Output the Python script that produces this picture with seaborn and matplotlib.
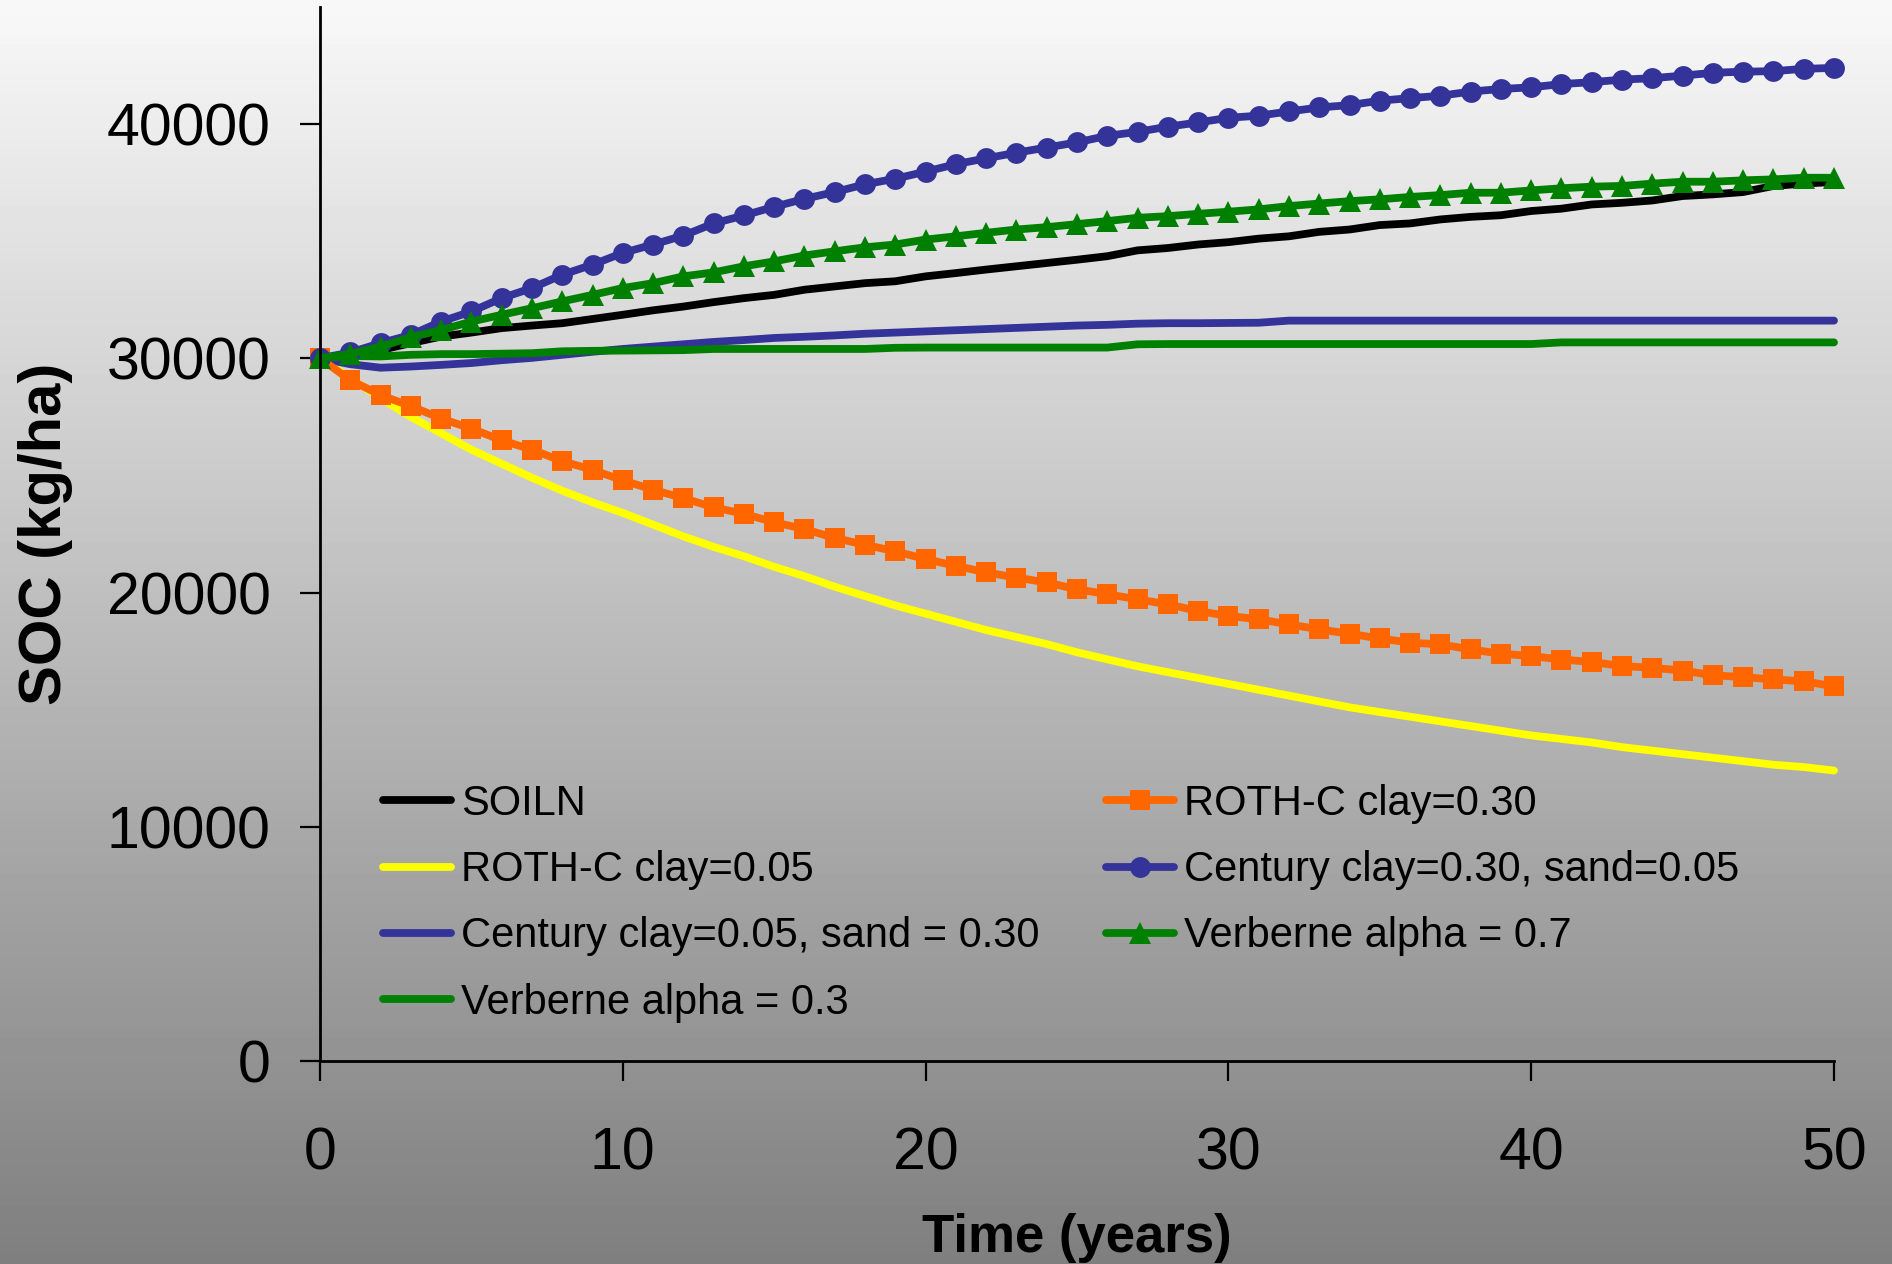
import numpy as np
import pandas as pd
import matplotlib
matplotlib.use("Agg")
import matplotlib.pyplot as plt
import seaborn as sns

# ---------------- data ----------------
years = list(range(51))

soiln = [30000, 30150, 30350, 30650, 30930, 31100, 31290, 31400, 31500, 31680,
         31860, 32050, 32210, 32400, 32570, 32710, 32930, 33070, 33210, 33290,
         33500, 33640, 33790, 33930, 34070, 34210, 34360, 34610, 34710, 34860,
         34960, 35110, 35210, 35400, 35500, 35690, 35760, 35930, 36040, 36110,
         36290, 36390, 36570, 36640, 36740, 36930, 37000, 37100, 37360, 37460,
         37530]

rothc_clay005 = [30000, 29150, 28300, 27500, 26800, 26100, 25500, 24900, 24350, 23850,
                 23400, 22900, 22400, 21950, 21550, 21100, 20700, 20250, 19850, 19450,
                 19100, 18750, 18400, 18100, 17800, 17450, 17150, 16850, 16600, 16350,
                 16100, 15850, 15600, 15350, 15100, 14900, 14700, 14500, 14300, 14100,
                 13900, 13750, 13600, 13400, 13250, 13100, 12950, 12800, 12650, 12550,
                 12400]

century_clay005 = [30000, 29750, 29600, 29650, 29720, 29800, 29920, 30020, 30150, 30280,
                   30400, 30500, 30600, 30700, 30780, 30870, 30920, 30980, 31050, 31100,
                   31150, 31200, 31250, 31300, 31350, 31400, 31430, 31480, 31500, 31500,
                   31510, 31520, 31610, 31610, 31610, 31610, 31610, 31610, 31610, 31610,
                   31610, 31610, 31610, 31610, 31610, 31610, 31610, 31610, 31610, 31610,
                   31610]

verberne_03 = [30000, 30100, 30080, 30150, 30180, 30180, 30200, 30220, 30300, 30320,
               30330, 30340, 30350, 30400, 30400, 30400, 30400, 30400, 30400, 30450,
               30460, 30460, 30460, 30460, 30460, 30460, 30460, 30600, 30610, 30610,
               30610, 30610, 30610, 30610, 30610, 30610, 30610, 30610, 30610, 30610,
               30610, 30680, 30680, 30680, 30680, 30680, 30680, 30680, 30680, 30680,
               30680]

rothc_clay030 = [30000, 29070, 28430, 27960, 27430, 27000, 26500, 26100, 25610, 25240,
                 24790, 24390, 24030, 23640, 23360, 23000, 22710, 22330, 22040, 21760,
                 21430, 21140, 20860, 20640, 20430, 20140, 19930, 19710, 19500, 19210,
                 19000, 18860, 18640, 18430, 18240, 18040, 17860, 17790, 17570, 17390,
                 17290, 17140, 17040, 16860, 16790, 16670, 16470, 16390, 16290, 16210,
                 16000]

century_clay030 = [30000, 30250, 30650, 31000, 31570, 32000, 32570, 33000, 33570, 34000,
                   34500, 34860, 35240, 35760, 36100, 36470, 36810, 37100, 37430, 37670,
                   37970, 38290, 38540, 38780, 39000, 39220, 39500, 39670, 39890, 40070,
                   40270, 40360, 40540, 40710, 40810, 41000, 41110, 41210, 41390, 41500,
                   41570, 41710, 41790, 41900, 41960, 42070, 42190, 42240, 42260, 42360,
                   42400]

verberne_07 = [30000, 30190, 30500, 30900, 31210, 31570, 31860, 32140, 32430, 32710,
               33000, 33210, 33500, 33670, 33930, 34140, 34390, 34570, 34740, 34860,
               35070, 35210, 35360, 35500, 35600, 35730, 35860, 36000, 36070, 36170,
               36260, 36360, 36500, 36610, 36710, 36790, 36890, 36970, 37070, 37070,
               37170, 37260, 37330, 37360, 37460, 37540, 37540, 37600, 37640, 37710,
               37710]

series_labels = ["SOILN", "ROTH-C clay=0.05", "Century clay=0.05, sand = 0.30",
                 "Verberne alpha = 0.3", "ROTH-C clay=0.30",
                 "Century clay=0.30, sand=0.05", "Verberne alpha = 0.7"]
series_values = [soiln, rothc_clay005, century_clay005, verberne_03,
                 rothc_clay030, century_clay030, verberne_07]

x_ticks = [0, 10, 20, 30, 40, 50]
y_ticks = [0, 10000, 20000, 30000, 40000]

# ---------------- styles ----------------
colors = ["#000000", "#FFFF00", "#333399", "#008000", "#FF6600", "#333399", "#008000"]
markers = ["None", "None", "None", "None", "s", "o", "^"]
msizes = [0, 0, 0, 0, 14, 15, 16.5]
LW = 5.6

sns.set_theme(style="white")
plt.rcParams["font.family"] = ["Liberation Sans", "DejaVu Sans"]

W, H, DPI = 1892, 1264, 100
fig = plt.figure(figsize=(W / DPI, H / DPI), dpi=DPI)

# gradient background
bg = fig.add_axes([0, 0, 1, 1], zorder=0)
grad = np.linspace(248, 127, 256).reshape(-1, 1) / 255.0
bg.imshow(np.repeat(grad, 2, axis=1), aspect="auto", cmap="gray", vmin=0, vmax=1,
          extent=[0, 1, 0, 1])
bg.set_axis_off()

ax = fig.add_axes([320 / W, 1 - 1061 / H, (1834 - 320) / W, (1061 - 7) / H], zorder=1)
ax.set_facecolor("none")

df = pd.DataFrame({"year": years})
for lab, vals, c in zip(series_labels, series_values, colors):
    df[lab] = vals
    sns.lineplot(data=df, x="year", y=lab, ax=ax, color=c, label=lab)

# enforce line styles on the drawn lines
for line, c, m, ms in zip(ax.get_lines(), colors, markers, msizes):
    line.set_linewidth(LW)
    line.set_color(c)
    line.set_clip_on(False)
    line.set_solid_capstyle("round")
    line.set_solid_joinstyle("round")
    line.set_marker(m)
    if m != "None":
        line.set_markersize(ms)
        line.set_markeredgewidth(0)
        line.set_markerfacecolor(c)
        line.set_markeredgecolor(c)

ax.set_xlim(0, 50)
ax.set_ylim(0, 45000)
ax.set_xticks(x_ticks)
ax.set_yticks(y_ticks)
ax.set_xticklabels([str(t) for t in x_ticks])
ax.set_yticklabels([str(t) for t in y_ticks])

for s in ["top", "right"]:
    ax.spines[s].set_visible(False)
for s in ["left", "bottom"]:
    ax.spines[s].set_color("black")
    ax.spines[s].set_linewidth(2)

ax.tick_params(axis="both", direction="out", length=14.5, width=1.6, color="black",
               labelsize=42.5, labelcolor="black", left=True, bottom=True)
ax.tick_params(axis="x", pad=33)
ax.tick_params(axis="y", pad=21)

ax.set_xlabel("Time (years)", fontsize=38, fontweight="bold", labelpad=22, color="black")
ax.set_ylabel("SOC (kg/ha)", fontsize=43, fontweight="bold", labelpad=24, color="black")

handles = ax.get_lines()[:len(series_labels)]
leg = ax.legend(handles, series_labels, ncol=2, frameon=False, loc="upper left",
                bbox_to_anchor=((383 - 320) / (1834 - 320), (1061 - 784) / (1061 - 7)),
                borderpad=0, borderaxespad=0, fontsize=30, handlelength=1.63,
                handletextpad=0.24, labelspacing=0.63, columnspacing=1.6,
                numpoints=1)
for t in leg.get_texts():
    t.set_color("black")

fig.savefig("out.png", dpi=DPI)
